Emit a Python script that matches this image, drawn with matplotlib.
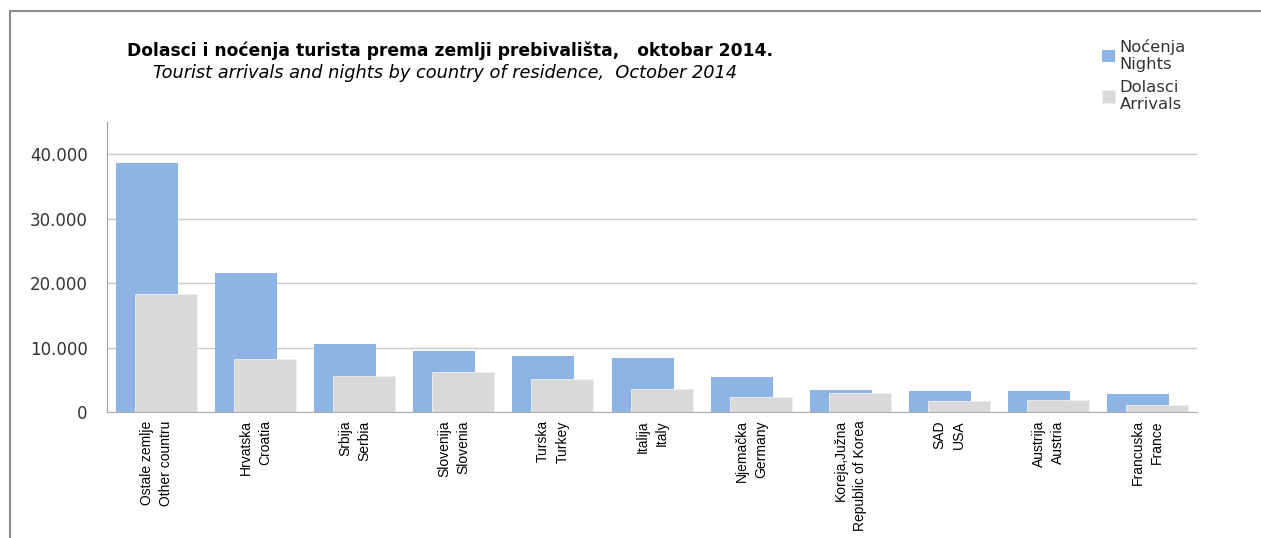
import numpy as np
import matplotlib
matplotlib.use('Agg')
import matplotlib.pyplot as plt
from matplotlib.ticker import FuncFormatter
from matplotlib.patches import Rectangle

narrow = ['Liberation Sans', 'DejaVu Sans']

categories = [
    "Ostale zemlje\nOther countru",
    "Hrvatska\nCroatia",
    "Srbija\nSerbia",
    "Slovenija\nSlovenia",
    "Turska\nTurkey",
    "Italija\nItaly",
    "Njemačka\nGermany",
    "Koreja,Južna\nRepublic of Korea",
    "SAD\nUSA",
    "Austrija\nAustria",
    "Francuska\nFrance",
]
nights = [38600, 21600, 10550, 9450, 8700, 8350, 5400, 3400, 3300, 3200, 2800]
arrivals = [18300, 8300, 5650, 6200, 5100, 3550, 2350, 2950, 1650, 1850, 1100]

blue = '#8EB4E3'
grey = '#D9D9D9'

fig = plt.figure(figsize=(12.61, 5.38), dpi=100)
ax = fig.add_axes([0.0849, 0.2342, 0.8644, 0.539])

x = np.arange(len(categories))
w = 0.626
off = 0.096
ax.bar(x - off, nights, w, color=blue, zorder=2, label="Noćenja\nNights")
ax.bar(x + off, arrivals, w, color=grey, edgecolor='#EEEEEE', linewidth=0.6,
       zorder=3, label="Dolasci\nArrivals")

ax.set_xlim(-0.5, len(categories) - 0.5)
ax.set_ylim(0, 45000)
ax.set_yticks([0, 10000, 20000, 30000, 40000])
ax.yaxis.set_major_formatter(FuncFormatter(lambda v, p: '{:,.0f}'.format(v).replace(',', '.')))
ax.grid(axis='y', color='#C8C8C8', linewidth=1.0, zorder=0)
ax.tick_params(axis='y', length=0, pad=14, labelsize=12, labelcolor='#333333')
ax.tick_params(axis='x', length=0, pad=6)
for s in ['top', 'right']:
    ax.spines[s].set_visible(False)
ax.spines['left'].set_color('#A0A0A0')
ax.spines['bottom'].set_color('#B0B0B0')

ax.set_xticks(x)
ax.set_xticklabels(categories, rotation=90, fontsize=10, family=narrow,
                   multialignment='right', linespacing=1.5, va='top', ha='center')

fig.text(0.357, 0.905, "Dolasci i noćenja turista prema zemlji prebivališta,   oktobar 2014.",
         ha='center', va='center', fontsize=12.3, fontweight='bold', family='DejaVu Sans')
fig.text(0.353, 0.865, "Tourist arrivals and nights by country of residence,  October 2014",
         ha='center', va='center', fontsize=12.8, style='italic', family='DejaVu Sans')

leg = fig.legend(loc='upper left', bbox_to_anchor=(0.862, 0.955), frameon=False,
                 fontsize=11.8, handlelength=0.8, handleheight=0.8, handletextpad=0.3,
                 labelspacing=0.45)
for t in leg.get_texts():
    t.set_color('#333333')

# outer frame of the chart area
fig.add_artist(Rectangle((10 / 1261, -0.05), 1.1, 1 - 11 / 538 + 0.05,
                         transform=fig.transFigure, fill=False,
                         edgecolor='#8C8C8C', linewidth=1.5))

fig.savefig('out.png', dpi=100)
